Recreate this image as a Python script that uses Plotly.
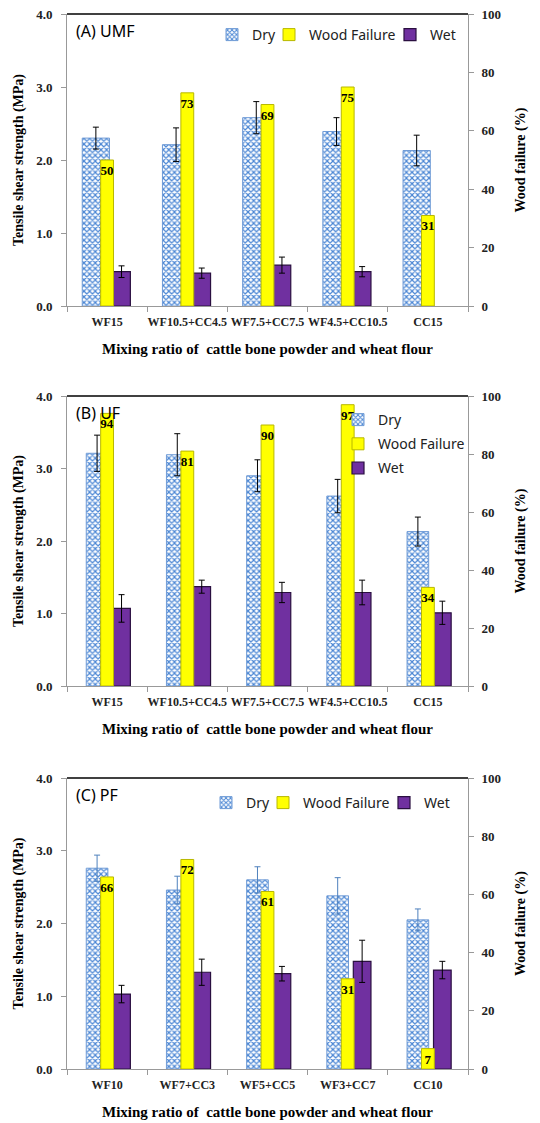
import plotly.graph_objects as go

W, H = 540, 1123

panel_titles = ["(A) UMF", "(B) UF", "(C) PF"]
cats_a = ["WF15", "WF10.5+CC4.5", "WF7.5+CC7.5", "WF4.5+CC10.5", "CC15"]
cats_b = ["WF15", "WF10.5+CC4.5", "WF7.5+CC7.5", "WF4.5+CC10.5", "CC15"]
cats_c = ["WF10", "WF7+CC3", "WF5+CC5", "WF3+CC7", "CC10"]

dry_a = [2.30, 2.21, 2.58, 2.39, 2.13]
dry_a_err = [0.15, 0.23, 0.22, 0.19, 0.21]
wf_a = [50, 73, 69, 75, 31]
wet_a = [0.47, 0.45, 0.56, 0.47, None]
wet_a_err = [0.08, 0.07, 0.11, 0.07, None]

dry_b = [3.21, 3.19, 2.90, 2.62, 2.13]
dry_b_err = [0.25, 0.29, 0.22, 0.23, 0.20]
wf_b = [94, 81, 90, 97, 34]
wet_b = [1.07, 1.37, 1.29, 1.29, 1.01]
wet_b_err = [0.19, 0.09, 0.14, 0.17, 0.16]

dry_c = [2.76, 2.46, 2.60, 2.38, 2.05]
dry_c_err = [0.18, 0.19, 0.18, 0.25, 0.15]
wf_c = [66, 72, 61, 31, 7]
wet_c = [1.03, 1.33, 1.31, 1.48, 1.36]
wet_c_err = [0.12, 0.18, 0.10, 0.29, 0.12]

y_ticks = [0, 1, 2, 3, 4]
y2_ticks = [0, 20, 40, 60, 80, 100]

x_title = "Mixing ratio of\u00a0 cattle bone powder and wheat flour"
y_title = "Tensile shear strength (MPa)"
y2_title = "Wood failure (%)"

SERIF = "Liberation Serif"
SANS = "Noto Sans"

# pixel geometry of each panel's plot area (top, bottom)
panel_px = [(14, 306), (396, 686), (778, 1069)]
x_px = (67, 468)

panels = [
    (cats_a, dry_a, dry_a_err, wf_a, wet_a, wet_a_err, "black", -0.31, 0.34),
    (cats_b, dry_b, dry_b_err, wf_b, wet_b, wet_b_err, "black", -0.26, 0.27),
    (cats_c, dry_c, dry_c_err, wf_c, wet_c, wet_c_err, "#4F81BD", -0.26, 0.27),
]

fig = go.Figure()
layout = {}
shapes = []
annotations = []

for i, (cats, dry, dry_err, wf, wet, wet_err, dry_err_col, d_off, d_w) in enumerate(panels):
    xa = "x" if i == 0 else f"x{i+1}"
    ya_l = "y" if i == 0 else f"y{2*i+1}"
    ya_r = f"y{2*i+2}"
    leg = "legend" if i == 0 else f"legend{i+1}"
    horiz = i != 1

    fig.add_trace(go.Bar(
        x=cats, y=dry, name="Dry", xaxis=xa, yaxis=ya_l,
        offset=d_off, width=d_w, legend=leg, legendgroup=f"dry{i}",
        legendwidth=12 if horiz else None,
        marker=dict(color="white", line=dict(color="#6F9BD6", width=1),
                    pattern=dict(shape="x", fgcolor="#4A86D4", bgcolor="white",
                                 size=4, solidity=0.5, fillmode="replace")),
        error_y=dict(type="data", array=dry_err, color=dry_err_col,
                     thickness=1, width=3),
    ))
    fig.add_trace(go.Bar(
        x=cats, y=wf, name="Wood Failure", xaxis=xa, yaxis=ya_r,
        offset=-0.08, width=0.16, legend=leg, legendgroup=f"wf{i}",
        legendwidth=76 if horiz else None,
        marker=dict(color="#FFFF00", line=dict(color="#B8B800", width=1)),
        text=[str(v) for v in wf], textposition="inside",
        insidetextanchor="end", textangle=0, constraintext="none",
        insidetextfont=dict(family=SERIF, size=13, color="black", weight="bold"),
    ))
    fig.add_trace(go.Bar(
        x=cats, y=wet, name="Wet", xaxis=xa, yaxis=ya_l,
        offset=0.07, width=0.22, legend=leg, legendgroup=f"wet{i}",
        marker=dict(color="#7030A0", line=dict(color="#2A0F40", width=1.2)),
        error_y=dict(type="data", array=wet_err, color="black",
                     thickness=1, width=3),
    ))

    top, bot = panel_px[i]
    ydom = [1 - bot / H, 1 - top / H]
    xdom = [x_px[0] / W, x_px[1] / W]
    xkey = "xaxis" if i == 0 else f"xaxis{i+1}"
    ylkey = "yaxis" if i == 0 else f"yaxis{2*i+1}"
    yrkey = f"yaxis{2*i+2}"

    layout[xkey] = dict(
        domain=xdom, anchor=ya_l, type="category", range=[-0.5, 4.5],
        showline=True, linecolor="#999999", linewidth=1,
        ticks="outside", tickson="boundaries", ticklen=5, tickcolor="#999999",
        tickangle=0, automargin=False, ticklabelstandoff=5,
        tickfont=dict(family=SERIF, size=12, color="#222222", weight="bold"),
        title=dict(text=x_title, standoff=15,
                   font=dict(family=SERIF, size=15, color="black", weight="bold")),
        showgrid=False, zeroline=False, fixedrange=True,
    )
    layout[ylkey] = dict(
        domain=ydom, anchor=xa, range=[0, 4], tickvals=y_ticks,
        tickformat=".1f", showline=True, linecolor="#999999", linewidth=1,
        ticks="outside", ticklen=5, tickcolor="#999999", automargin=False,
        ticklabelstandoff=6,
        tickfont=dict(family=SERIF, size=13, color="#222222", weight="bold"),
        title=dict(text=y_title, standoff=9,
                   font=dict(family=SERIF, size=14, color="black", weight="bold")),
        showgrid=False, zeroline=False,
    )
    layout[yrkey] = dict(
        overlaying=ya_l, anchor=xa, side="right", range=[0, 100],
        tickvals=y2_ticks, showline=True, linecolor="#999999", linewidth=1,
        ticks="outside", ticklen=5, tickcolor="#999999", automargin=False,
        ticklabelstandoff=5,
        tickfont=dict(family=SERIF, size=13, color="#222222", weight="bold"),
        title=dict(text=y2_title, standoff=15,
                   font=dict(family=SERIF, size=14, color="black", weight="bold")),
        showgrid=False, zeroline=False,
    )

    shapes.append(dict(type="line", xref=f"{xa} domain", yref=f"{ya_l} domain",
                       x0=0, x1=1, y0=1, y1=1, line=dict(color="black", width=1.5)))
    annotations.append(dict(text=panel_titles[i], xref="paper", yref="paper",
                            x=74 / W, y=1 - (top + 17) / H, xanchor="left",
                            yanchor="middle", showarrow=False,
                            font=dict(family=SANS, size=16, color="black")))

legend_common = dict(font=dict(family=SANS, size=14, color="#222222"),
                     bgcolor="rgba(0,0,0,0)", itemwidth=30)
layout["legend"] = dict(legend_common, orientation="h", x=212 / W, y=1 - 35 / H,
                        xanchor="left", yanchor="middle", traceorder="normal")
layout["legend2"] = dict(legend_common, orientation="v", x=338 / W, y=1 - 404 / H,
                         xanchor="left", yanchor="top", traceorder="grouped",
                         tracegroupgap=3)
layout["legend3"] = dict(legend_common, orientation="h", x=206 / W, y=1 - 803 / H,
                         xanchor="left", yanchor="middle", traceorder="normal")

fig.update_layout(
    width=W, height=H, margin=dict(l=0, r=0, t=0, b=0, autoexpand=False),
    paper_bgcolor="white", plot_bgcolor="white",
    barmode="overlay", showlegend=True,
    shapes=shapes, annotations=annotations, **layout,
)

fig.write_html(
    "out.html",
    config={"displayModeBar": False},
    post_script="document.body.style.margin='0';document.body.style.padding='0';",
)
